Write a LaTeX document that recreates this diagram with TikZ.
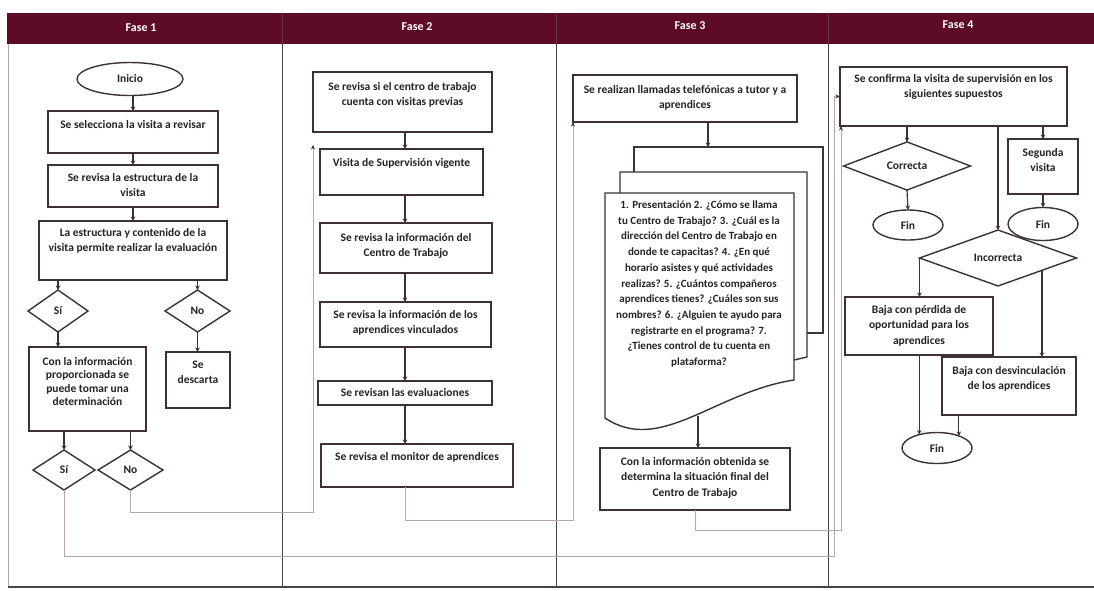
\documentclass[tikz,border=0pt]{standalone}
\usepackage{fontspec}
\setmainfont{Carlito}
\usetikzlibrary{shapes.geometric,arrows.meta,calc}

\definecolor{hdr}{RGB}{94,12,38}
\definecolor{edge}{RGB}{62,48,54}
\definecolor{ink}{RGB}{38,34,36}
\definecolor{retc}{RGB}{185,166,172}
\definecolor{divc}{RGB}{72,68,70}
\definecolor{framec}{RGB}{170,170,170}

% box text: top-aligned lines inside a box of fixed size (w, h in pt)
\newcommand{\bxt}[4][17]{\parbox[c][#3pt][t]{#2pt}{\centering\rule{0pt}{#1pt}#4}}

\tikzset{
  txt/.style={text=ink, font=\fontsize{11.5}{15.5}\selectfont\bfseries},
  stepbox/.style={txt, draw=edge, line width=1.4pt, fill=white, inner sep=0pt, outer sep=0pt},
  decision/.style={txt, diamond, draw=edge, line width=1.4pt, fill=white, inner sep=0pt, outer sep=0pt},
  terminal/.style={txt, ellipse, draw=edge, line width=1.4pt, fill=white, inner sep=0pt, outer sep=0pt},
  arr/.style={draw=edge, line width=1.2pt, -{Stealth[length=4.5pt,width=4.5pt]}},
  ret/.style={draw=retc, line width=0.8pt, -{Stealth[length=4.5pt,width=4pt,color=edge]}},
  hdrtext/.style={text=white, font=\fontsize{12}{14}\selectfont\bfseries},
  sheet/.style={draw=edge, line width=1.4pt}
}

\begin{document}
\begin{tikzpicture}[x=1pt,y=-1pt]
\useasboundingbox (0,0) rectangle (1094,590);

% ---- header band and lanes ----
\fill[hdr] (7,13) rectangle (1094,44);
\node[hdrtext] (h1) at (141,28) {Fase 1};
\node[hdrtext] (h2) at (417,27) {Fase 2};
\node[hdrtext] (h3) at (690,26) {Fase 3};
\node[hdrtext] (h4) at (958,25) {Fase 4};
\draw[framec, line width=0.8pt] (8,44) -- (8,587);
\foreach \xx in {282,556,828} \draw[divc, line width=1pt] (\xx,13) -- (\xx,587);
\draw[divc, line width=1.8pt] (8,587) -- (1094,587);

% ---- Fase 1 ----
\node[terminal, minimum width=106pt, minimum height=33pt] (inicio) at (130,79) {Inicio};
\node[stepbox] (s1) at (133,132) {\bxt{170}{42}{Se selecciona la visita a revisar}};
\node[stepbox] (s2) at (133,186) {\bxt[16]{170}{42}{Se revisa la estructura de la\\visita}};
\node[stepbox] (s3) at (133,250.5) {\bxt[15]{188}{59}{La estructura y contenido de la\\visita permite realizar la evaluación}};
\node[decision, minimum width=60pt, minimum height=42pt] (si) at (58,311) {Sí};
\node[decision, minimum width=65pt, minimum height=42pt] (no) at (197.5,311) {No};
\node[stepbox, font=\fontsize{11.5}{13.5}\selectfont\bfseries] (ci) at (87.5,389) {\bxt[18]{117}{84}{Con la información\\proporcionada se\\puede tomar una\\determinación}};
\node[stepbox] (sd) at (198,380) {\bxt[16]{64}{56}{Se\\descarta}};
\node[decision, minimum width=62pt, minimum height=40pt] (si2) at (64,470) {Sí};
\node[decision, minimum width=65pt, minimum height=40pt] (no2) at (130.5,470) {No};

\draw[arr] (s1.north |- inicio.south) -- (s1.north);
\draw[arr] (s1.south) -- (s2.north);
\draw[arr] (s2.south) -- (s2.south |- s3.north);
\draw[arr] (si.north |- s3.south) -- (si.north);
\draw[arr] (no.north |- s3.south) -- (no.north);
\draw[arr] (si.south) -- (si.south |- ci.north);
\draw[arr] (no.south) -- (no.south |- sd.north);
\draw[arr] (si2.north |- ci.south) -- (si2.north);
\draw[arr] (no2.north |- ci.south) -- (no2.north);

% ---- Fase 2 ----
\node[stepbox] (f2a) at (402.5,102) {\bxt[18]{179}{60}{Se revisa si el centro de trabajo\\cuenta con visitas previas}};
\node[stepbox] (f2b) at (401.5,172) {\bxt{163}{46}{Visita de Supervisión vigente}};
\node[stepbox] (f2c) at (406,248) {\bxt[18]{172}{50}{Se revisa la información del\\Centro de Trabajo}};
\node[stepbox] (f2d) at (405.5,324.5) {\bxt[16]{171}{45}{Se revisa la información de los\\aprendices vinculados}};
\node[stepbox] (f2e) at (405,393) {\bxt[15]{174}{24}{Se revisan las evaluaciones}};
\node[stepbox] (f2f) at (417,465.5) {\bxt[16]{192}{43}{Se revisa el monitor de aprendices}};

\draw[arr] (f2e.center |- f2a.south) -- (f2e.center |- f2b.north);
\draw[arr] (f2e.center |- f2b.south) -- (f2e.center |- f2c.north);
\draw[arr] (f2e.center |- f2c.south) -- (f2e.center |- f2d.north);
\draw[arr] (f2e.center |- f2d.south) -- (f2e.north);
\draw[arr] (f2e.south) -- (f2e.south |- f2f.north);

% ---- Fase 3 ----
\node[stepbox] (f3a) at (685,98.5) {\bxt[18]{224}{47}{Se realizan llamadas telefónicas a tutor y a\\aprendices}};
% stacked documents
\draw[sheet] (634,172) -- (634,147) -- (823,147) -- (823,333) -- (807,333);
\draw[sheet] (620,193) -- (620,172) -- (807,172) -- (807,357) -- (794,360);
\filldraw[sheet, fill=white] (605,193) -- (794,193) -- (794,380)
  .. controls (715,392) and (660,455) .. (605,418) -- cycle;
\node[txt, align=center, font=\fontsize{11}{15.7}\selectfont\bfseries] (qs) at (699,284) {1. Presentación 2. ¿Cómo se llama\\tu Centro de Trabajo? 3. ¿Cuál es la\\dirección del Centro de Trabajo en\\donde te capacitas? 4. ¿En qué\\horario asistes y qué actividades\\realizas? 5. ¿Cuántos compañeros\\aprendices tienes? ¿Cuáles son sus\\nombres? 6. ¿Alguien te ayudo para\\registrarte en el programa? 7.\\¿Tienes control de tu cuenta en\\plataforma?};
\coordinate (docTop) at (708,147);
\coordinate (docBot) at (698,416);
\node[stepbox] (f3b) at (695,479) {\bxt[17]{190}{62}{Con la información obtenida se\\determina la situación final del\\Centro de Trabajo}};

\draw[arr] (f3a.south -| docTop) -- (docTop);
\draw[arr] (docBot) -- (docBot |- f3b.north);

% ---- Fase 4 ----
\node[stepbox] (f4a) at (953.5,96.5) {\bxt[15]{227}{59}{Se confirma la visita de supervisión en los\\siguientes supuestos}};
\node[decision, minimum width=127pt, minimum height=38pt] (corr) at (907,166) {Correcta};
\node[terminal, minimum width=70pt, minimum height=30pt] (fin1) at (908,225) {Fin};
\node[stepbox] (seg) at (1043,166.5) {\bxt[17]{70}{55}{Segunda\\visita}};
\node[terminal, minimum width=70pt, minimum height=33pt] (fin2) at (1043,224) {Fin};
\node[decision, minimum width=157pt, minimum height=36pt] (inc) at (998,258) {Incorrecta};
\node[stepbox] (bp) at (919,326) {\bxt[16]{148}{58}{Baja con pérdida de\\oportunidad para los\\aprendices}};
\node[stepbox] (bd) at (1009,386) {\bxt[17]{134}{58}{Baja con desvinculación\\de los aprendices}};
\node[terminal, minimum width=70pt, minimum height=31pt] (fin3) at (937,448) {Fin};

\draw[arr] (corr.north |- f4a.south) -- (corr.north);
\draw[arr] (corr.south) -- (fin1.north);
\draw[arr] (seg.north |- f4a.south) -- (seg.north);
\draw[arr] (seg.south) -- (fin2.north);
\draw[arr] (inc.north |- f4a.south) -- (inc.north);
\draw[arr] (inc.west) -- (inc.west |- bp.north);
\coordinate (incR) at ($(inc.south)!0.56!(inc.east)$);
\draw[arr] (incR) -- (incR |- bd.north);
\draw[arr] (bp.south -| fin3.143) -- (fin3.143);
\draw[arr] (bd.south -| fin3.29) -- (fin3.29);

% ---- connectors between lanes ----
\coordinate (r1) at (313,512);
\coordinate (t1) at (313,145);
\draw[ret] (no2.south) |- (r1) -- (t1);
\coordinate (r2) at (834,556);
\draw[ret] (si2.south) |- (r2) |- (f4a.west);
\coordinate (r3) at (573,520);
\draw[ret] (f2e.center |- f2f.south) |- (r3) -- (f3a.south west);
\coordinate (r4) at (841,530);
\draw[ret] (f3b.south) |- (r4) -- (f4a.south west -| r4);
\end{tikzpicture}
\end{document}
